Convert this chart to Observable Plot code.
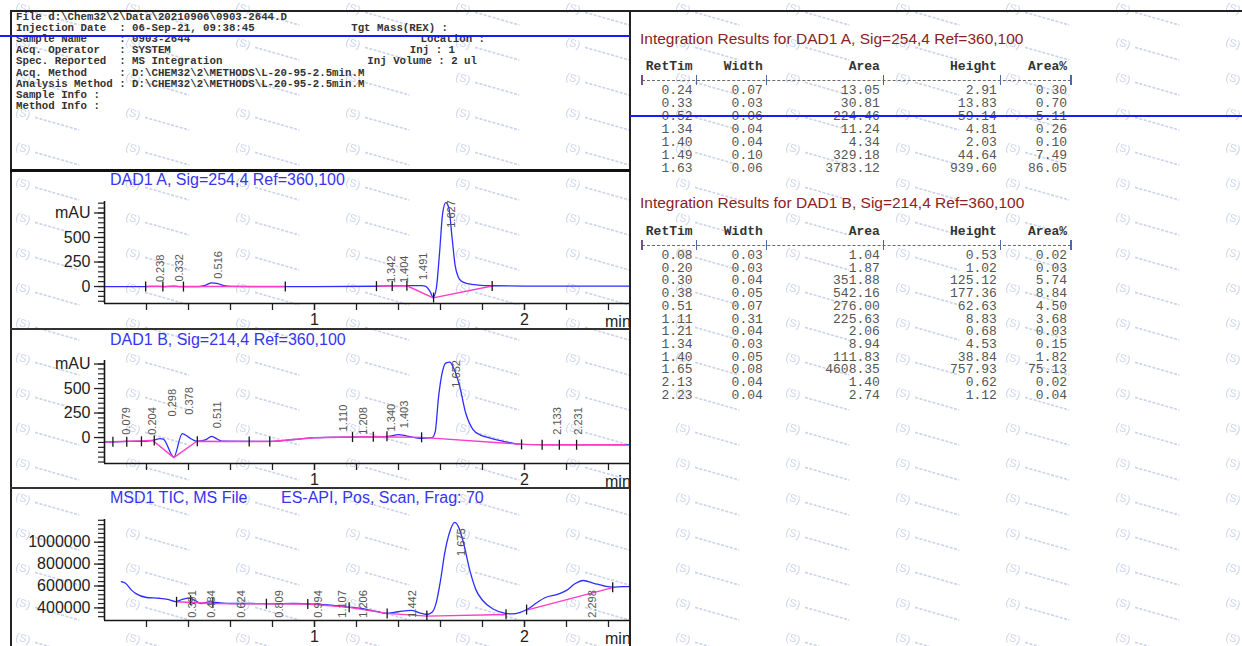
<!DOCTYPE html>
<html><head><meta charset="utf-8">
<script src="https://cdn.jsdelivr.net/npm/d3@7"></script>
<script src="https://cdn.jsdelivr.net/npm/@observablehq/plot@0.6"></script>
<style>
html,body{margin:0;padding:0;background:#fff;}
body{width:1242px;height:646px;position:relative;overflow:hidden;font-family:"Liberation Sans",Arial,sans-serif;}
.abs{position:absolute;}
.mono{font-family:"Liberation Mono","DejaVu Sans Mono",monospace;white-space:pre;}
#left{position:absolute;left:0;top:0;width:630px;height:646px;overflow:hidden;}
.ttl{position:absolute;font-size:16px;line-height:18px;color:#3535f0;white-space:pre;}
.res{position:absolute;font-size:15.5px;line-height:18px;color:#8a2323;white-space:pre;}
.panel{position:absolute;left:0;}
</style></head><body>
<div id="wm" class="abs" style="left:0;top:0;width:1242px;height:646px;"></div>
<div id="left"></div>
<div id="right"></div>
<script>
// ---------- header / table data ----------
const headerLines = [
  "File d:\\Chem32\\2\\Data\\20210906\\0903-2644.D",
  "Injection Date  : 06-Sep-21, 09:38:45",
  "Sample Name     : 0903-2644",
  "Acq. Operator   : SYSTEM",
  "Spec. Reported  : MS Integration",
  "Acq. Method     : D:\\CHEM32\\2\\METHODS\\L-20-95-2.5min.M",
  "Analysis Method : D:\\CHEM32\\2\\METHODS\\L-20-95-2.5min.M",
  "Sample Info :",
  "Method Info :"
];
const headerRightText = ["Tgt Mass(REX) :", "Location :", "Inj : 1", "Inj Volume : 2 ul"];
const headerRightLine = [1, 2, 3, 4];

const tableCols = ["RetTim", "Width", "Area", "Height", "Area%"];
const tableATitle = "Integration Results for DAD1 A, Sig=254,4 Ref=360,100";
const retA = [0.24, 0.33, 0.52, 1.34, 1.40, 1.49, 1.63];
const widthA = [0.07, 0.03, 0.06, 0.04, 0.04, 0.10, 0.06];
const areaA = [13.05, 30.81, 224.46, 11.24, 4.34, 329.18, 3783.12];
const heightA = [2.91, 13.83, 59.14, 4.81, 2.03, 44.64, 939.60];
const pctA = [0.30, 0.70, 5.11, 0.26, 0.10, 7.49, 86.05];

const tableBTitle = "Integration Results for DAD1 B, Sig=214,4 Ref=360,100";
const retB = [0.08, 0.20, 0.30, 0.38, 0.51, 1.11, 1.21, 1.34, 1.40, 1.65, 2.13, 2.23];
const widthB = [0.03, 0.03, 0.04, 0.05, 0.07, 0.31, 0.04, 0.03, 0.05, 0.08, 0.04, 0.04];
const areaB = [1.04, 1.87, 351.88, 542.16, 276.00, 225.63, 2.06, 8.94, 111.83, 4608.35, 1.40, 2.74];
const heightB = [0.53, 1.02, 125.12, 177.36, 62.63, 8.83, 0.68, 4.53, 38.84, 757.93, 0.62, 1.12];
const pctB = [0.02, 0.03, 5.74, 8.84, 4.50, 3.68, 0.03, 0.15, 1.82, 75.13, 0.02, 0.04];

// ---------- chromatogram data ----------
const xMinor = [0.2, 0.4, 0.6, 0.8, 1.0, 1.2, 1.4, 1.6, 1.8, 2.0, 2.2, 2.4];
const xMajor = [1, 2];

const titleA = "DAD1 A, Sig=254,4 Ref=360,100";
const traceA = [[0,0],[0.20,0],[0.24,2],[0.28,0],[0.33,4],[0.36,0],[0.45,0],[0.48,12],[0.51,38],[0.54,30],[0.57,8],[0.60,2],[0.70,0],[1.00,0],[1.30,3],[1.34,7],[1.40,9],[1.46,9],[1.51,9],[1.53,2],[1.55,-50],[1.565,-110],[1.58,-20],[1.595,330],[1.61,740],[1.625,855],[1.64,800],[1.655,500],[1.67,210],[1.685,95],[1.70,55],[1.73,30],[1.78,15],[1.85,8],[2.00,5],[2.50,5]];
const baseA = [
  [[0.196,0],[0.861,0]],
  [[1.295,4],[1.44,8],[1.565,-115],[1.846,6]]
];
const eventTA = [0.196, 0.278, 0.376, 0.861, 1.295, 1.37, 1.44, 1.567, 1.846];
const eventVA = [0, 0, 0, 0, 4, 6, 8, -112, 6];
const labelTextA = ["0.238", "0.332", "0.516", "1.342", "1.404", "1.491", "1.627"];
const labelTA = [0.238, 0.332, 0.516, 1.342, 1.404, 1.491, 1.627];
const labelVA = [25, 30, 60, 15, 15, 45, 880];
const labelTopA = [false, false, false, false, false, false, true];

const titleB = "DAD1 B, Sig=214,4 Ref=360,100";
const traceB = [[0,-46],[0.08,-42],[0.10,-40],[0.20,-38],[0.23,-30],[0.265,-12],[0.28,-16],[0.33,-200],[0.37,40],[0.41,-10],[0.44,-38],[0.48,-25],[0.51,12],[0.54,-20],[0.56,-38],[0.79,-40],[0.90,-20],[1.00,-2],[1.18,5],[1.30,8],[1.36,15],[1.40,30],[1.44,15],[1.50,-8],[1.56,0],[1.575,60],[1.59,400],[1.61,680],[1.625,760],[1.645,770],[1.66,720],[1.69,535],[1.72,250],[1.755,80],[1.79,25],[1.82,5],[1.90,-40],[1.99,-70],[2.10,-74],[2.50,-74]];
const baseB = [
  [[0,-46],[0.23,-30],[0.33,-205],[0.44,-38],[0.60,-40],[0.78,-40]],
  [[0.79,-40],[1.00,-2],[1.18,5],[1.30,8],[1.51,2],[1.99,-70],[2.48,-74]]
];
const eventTB = [0.04, 0.106, 0.176, 0.237, 0.442, 0.689, 0.787, 1.181, 1.28, 1.345, 1.51, 1.986, 2.084, 2.166, 2.248];
const eventVB = [-44, -42, -39, -30, -38, -40, -40, 5, 8, 12, 2, -70, -73, -74, -74];
const labelTextB = ["0.079", "0.204", "0.298", "0.378", "0.511", "1.110", "1.208", "1.340", "1.403", "1.652", "2.133", "2.231"];
const labelTB = [0.079, 0.204, 0.298, 0.378, 0.511, 1.110, 1.208, 1.340, 1.403, 1.652, 2.133, 2.231];
const labelVB = [8, 8, 195, 212, 75, 42, 8, 42, 75, 790, 8, 8];
const labelTopB = [false, false, false, false, false, false, false, false, false, true, false, false];

const titleC1 = "MSD1 TIC, MS File", titleC2 = "ES-API, Pos, Scan, Frag: 70";
const traceC = [[0.08,640000],[0.10,625000],[0.13,560000],[0.15,530000],[0.20,495000],[0.26,488000],[0.30,478000],[0.34,458000],[0.37,478000],[0.40,490000],[0.43,470000],[0.46,440000],[0.50,455000],[0.55,445000],[0.60,440000],[0.70,440000],[0.80,438000],[0.90,440000],[1.00,435000],[1.08,425000],[1.15,410000],[1.22,395000],[1.30,365000],[1.34,350000],[1.40,365000],[1.46,378000],[1.50,355000],[1.535,340000],[1.56,360000],[1.58,450000],[1.60,650000],[1.62,900000],[1.645,1100000],[1.668,1180000],[1.69,1120000],[1.71,990000],[1.74,740000],[1.77,560000],[1.80,470000],[1.85,390000],[1.90,355000],[1.94,345000],[1.98,360000],[2.02,395000],[2.06,450000],[2.10,495000],[2.16,525000],[2.20,560000],[2.24,620000],[2.28,650000],[2.33,625000],[2.38,600000],[2.42,590000],[2.47,595000],[2.50,595000]];
const baseC = [
  [[0.343,456000],[0.52,440000],[0.77,438000],[0.97,436000],[1.165,405000],[1.346,350000],[1.535,325000],[1.912,340000]],
  [[2.01,380000],[2.42,585000]]
];
const eventTC = [0.343, 0.41, 0.516, 0.771, 0.968, 1.165, 1.346, 1.535, 1.912, 2.01, 2.42];
const eventVC = [456000, 470000, 445000, 438000, 436000, 405000, 350000, 330000, 342000, 385000, 588000];
const labelTextC = ["0.391", "0.484", "0.624", "0.809", "0.994", "1.107", "1.206", "1.442", "1.675", "2.298"];
const labelTC = [0.391, 0.484, 0.624, 0.809, 0.994, 1.107, 1.206, 1.442, 1.675, 2.298];
const labelVC = [292000, 292000, 292000, 292000, 292000, 292000, 292000, 292000, 1125000, 292000];
const labelTopC = [false, false, false, false, false, false, false, false, true, false];

// ---------- helpers ----------
const BLUE = "#2d2dff", PINK = "#ff3cc8", INK = "#161616";
const left = document.getElementById("left");
const right = document.getElementById("right");
function el(parent, cls, css, text) {
  const d = document.createElement("div");
  if (cls) d.className = cls;
  d.style.cssText = css;
  if (text != null) d.textContent = text;
  parent.appendChild(d);
  return d;
}

// watermark
const wmSvg = "<svg xmlns='http://www.w3.org/2000/svg' width='110' height='35'><g transform='rotate(16 8 12)' fill='#ccd3ea' stroke='#ccd3ea'><text x='4' y='16' font-size='11' font-family='sans-serif' stroke='none'>(S)</text><line x1='24' y1='13' x2='70' y2='13' stroke-width='1.6' stroke-dasharray='3 1.5'/></g></svg>";
document.getElementById("wm").style.backgroundImage = "url(\"data:image/svg+xml;utf8," + encodeURIComponent(wmSvg) + "\")";
document.getElementById("wm").style.backgroundPosition = "12px 30px";

// header text
headerLines.forEach((s, i) => {
  el(left, "abs mono", `left:16px;top:${17 + 11.2 * i - 5.5}px;font-size:10.75px;line-height:11px;font-weight:bold;color:#333;`, s);
});
const headerRightEdge = [448, 485, 455, 477];
headerRightText.forEach((s, i) => {
  el(left, "abs mono", `right:${630 - headerRightEdge[i]}px;top:${17 + 11.2 * headerRightLine[i] - 5.5}px;font-size:10.75px;line-height:11px;font-weight:bold;color:#333;`, s);
});

// borders
el(document.body, "abs", "left:10px;top:10px;width:1232px;height:1.5px;background:#222;");
el(document.body, "abs", "left:10px;top:10px;width:1.5px;height:636px;background:#222;");
el(document.body, "abs", "left:629px;top:10px;width:2px;height:636px;background:#222;");
el(document.body, "abs", "left:10px;top:169px;width:620px;height:3px;background:#111;");
el(document.body, "abs", "left:10px;top:328px;width:620px;height:1.5px;background:#333;");
el(document.body, "abs", "left:10px;top:487px;width:620px;height:1.5px;background:#333;");

// tables
const CH = 7.8; // monospace char width at 13px
const sepCols = [0, 7, 16, 31, 46, 55];
function table(top, title, rowTop, rowStep, ret, wid, area, ht, pct) {
  el(right, "res", `left:640px;top:${top - 9}px;`, title);
  const hdr = tableCols[0].padStart(7) + tableCols[1].padStart(9) + tableCols[2].padStart(15) + tableCols[3].padStart(15) + tableCols[4].padStart(9);
  el(right, "abs mono", `left:638px;top:${rowTop - 24 - 6}px;font-size:13px;line-height:12px;font-weight:bold;color:#333;`, hdr);
  // separator drawn as a dashed rule with column bars
  const sy = rowTop - 11;
  el(right, "abs", `left:${638 + CH / 2}px;top:${sy}px;width:${55 * CH}px;height:0;border-top:1.3px dashed #6a6a6a;`);
  sepCols.forEach(c => el(right, "abs", `left:${638 + c * CH + CH / 2 - 0.7}px;top:${sy - 5}px;width:1.4px;height:10px;background:${c === 0 || c === 31 ? "#7a4a8a" : "#4a6aa0"};`));
  ret.forEach((r, i) => {
    const line = r.toFixed(2).padStart(7) + wid[i].toFixed(2).padStart(9) + area[i].toFixed(2).padStart(15) + ht[i].toFixed(2).padStart(15) + pct[i].toFixed(2).padStart(9);
    el(right, "abs mono", `left:638px;top:${rowTop + rowStep * i - 6}px;font-size:13px;line-height:12px;color:#555;`, line);
  });
}
table(39, tableATitle, 91, 13, retA, widthA, areaA, heightA, pctA);
table(203, tableBTitle, 256, 12.7, retB, widthB, areaB, heightB, pctB);

// blue scan lines
el(document.body, "abs", "left:0;top:35px;width:630px;height:1.6px;background:#1a1aff;");
el(document.body, "abs", "left:630px;top:115px;width:612px;height:1.6px;background:#1a1aff;");

// chromatogram panels
const vbar = {draw(ctx, size) { const h = Math.sqrt(size / Math.PI); ctx.moveTo(0, -h); ctx.lineTo(0, h); }};
function range(a, b, s) { const out = []; for (let v = a; v <= b + 1e-9; v += s) out.push(Math.round(v)); return out; }

function panel(p) {
  const pts = p.trace.map(([t, v]) => ({t, v}));
  const base = p.baselines.flatMap((seg, k) => seg.map(([t, v]) => ({t, v, seg: k})));
  const ev = p.eventT.map((t, i) => ({t, v: p.eventV[i]}));
  const labs = p.labelText.map((s, i) => ({t: p.labelT[i], v: p.labelV[i], s, top: p.labelTop[i]}));
  const svg = Plot.plot({
    width: 630,
    height: p.svgBottom - p.svgTop,
    marginLeft: 104, marginRight: 1,
    marginTop: p.plotTop - p.svgTop,
    marginBottom: p.svgBottom - p.plotBottom,
    x: {domain: [0, 2.5], label: null},
    y: {domain: p.yDomain, label: null},
    style: {fontFamily: "Liberation Sans, Arial, sans-serif", fontSize: "16px", color: "#222", background: "transparent", overflow: "visible"},
    marks: [
      Plot.axisY(p.yMinor, {tickSize: 6, tickFormat: () => "", label: null, strokeWidth: 1.2}),
      Plot.axisY(p.yMajor, {tickSize: 10, tickPadding: 4, tickFormat: p.yFormat, label: null, strokeWidth: 1.3}),
      Plot.axisX(xMinor, {tickSize: 7, tickFormat: () => "", label: null, strokeWidth: 1.3}),
      Plot.axisX(xMajor, {tickSize: 7, tickPadding: 3, tickFormat: d => String(d), label: null, strokeWidth: 1.3}),
      Plot.line(pts, {x: "t", y: "v", stroke: BLUE, strokeWidth: 1.3, curve: "monotone-x", clip: true}),
      Plot.line(base, {x: "t", y: "v", z: "seg", stroke: PINK, strokeWidth: 1.4}),
      Plot.dot(ev, {x: "t", y: "v", symbol: vbar, r: 5, stroke: INK, strokeWidth: 1.3, fill: "none"}),
      Plot.text(labs.filter(d => !d.top), {x: "t", y: "v", text: "s", rotate: -90, textAnchor: "start", dx: 5.5, dy: -2, fontSize: 11, fill: "#555"}),
      Plot.text(labs.filter(d => d.top), {x: "t", y: "v", text: "s", rotate: -90, textAnchor: "end", dx: 5.5, fontSize: 11, fill: "#555"}),
      Plot.ruleX([0], {stroke: INK, strokeWidth: 1.6}),
      Plot.ruleY([p.yDomain[0]], {stroke: INK, strokeWidth: 1.6})
    ]
  });
  const wrap = el(left, "panel", `top:${p.svgTop}px;`);
  wrap.appendChild(svg);
  el(left, "abs", `left:605px;top:${p.plotBottom + 10}px;font-size:16px;line-height:18px;color:#222;`, "min");
}

el(left, "ttl", "left:110px;top:171px;", titleA);
el(left, "ttl", "left:110px;top:331px;", titleB);
el(left, "ttl", "left:110px;top:489px;", titleC1);
el(left, "ttl", "left:281px;top:489px;", titleC2);

panel({svgTop: 190, plotTop: 201, plotBottom: 303, svgBottom: 328, yDomain: [-173, 867],
  yMinor: range(-150, 850, 50), yMajor: [0, 250, 500, 750], yFormat: d => d === 750 ? "mAU" : String(d),
  trace: traceA, baselines: baseA, eventT: eventTA, eventV: eventVA,
  labelText: labelTextA, labelT: labelTA, labelV: labelVA, labelTop: labelTopA});
panel({svgTop: 350, plotTop: 360, plotBottom: 463, svgBottom: 487, yDomain: [-265, 786],
  yMinor: range(-250, 750, 50), yMajor: [0, 250, 500, 750], yFormat: d => d === 750 ? "mAU" : String(d),
  trace: traceB, baselines: baseB, eventT: eventTB, eventV: eventVB,
  labelText: labelTextB, labelT: labelTB, labelV: labelVB, labelTop: labelTopB});
panel({svgTop: 508, plotTop: 519, plotBottom: 620, svgBottom: 646, yDomain: [285000, 1207000],
  yMinor: range(320000, 1200000, 40000), yMajor: [400000, 600000, 800000, 1000000], yFormat: d => String(d),
  trace: traceC, baselines: baseC, eventT: eventTC, eventV: eventVC,
  labelText: labelTextC, labelT: labelTC, labelV: labelVC, labelTop: labelTopC});
</script>
</body></html>
